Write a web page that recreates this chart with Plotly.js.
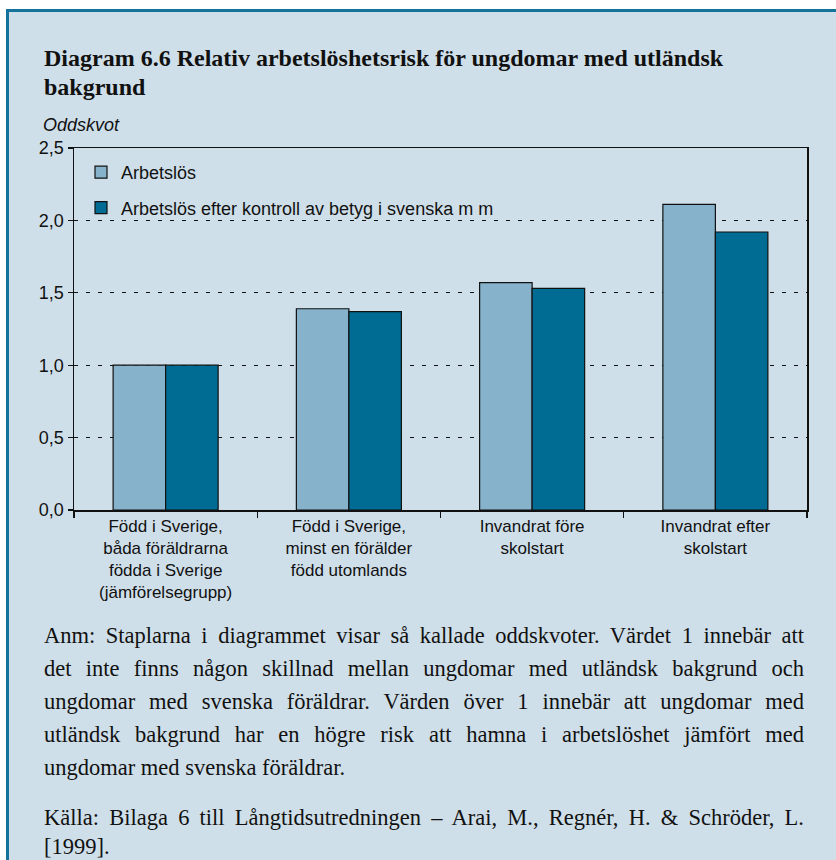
<!DOCTYPE html>
<html>
<head>
<meta charset="utf-8">
<script src="https://cdn.plot.ly/plotly-3.0.1.min.js"></script>
<style>
  html, body { margin: 0; padding: 0; background: #ffffff; }
  #chart { width: 836px; height: 860px; }
</style>
</head>
<body>
<div id="chart"></div>
<script>
// ---- Data ----
const categories = [
  "Född i Sverige,<br>båda föräldrarna<br>födda i Sverige<br>(jämförelsegrupp)",
  "Född i Sverige,<br>minst en förälder<br>född utomlands",
  "Invandrat före<br>skolstart",
  "Invandrat efter<br>skolstart"
];
const seriesNames = ["Arbetslös", "Arbetslös efter kontroll av betyg i svenska m m"];
const arbetslos = [1.00, 1.39, 1.57, 2.11];
const arbetslosKontroll = [1.00, 1.37, 1.53, 1.92];
const yTickVals = [0, 0.5, 1.0, 1.5, 2.0, 2.5];

const titleLines = [
  "Diagram 6.6 Relativ arbetslöshetsrisk för ungdomar med utländsk",
  "bakgrund"
];
const yAxisLabel = "Oddskvot";
const noteLines = [
  "Anm: Staplarna i diagrammet visar så kallade oddskvoter. Värdet 1 innebär att",
  "det inte finns någon skillnad mellan ungdomar med utländsk bakgrund och",
  "ungdomar med svenska föräldrar. Värden över 1 innebär att ungdomar med",
  "utländsk bakgrund har en högre risk att hamna i arbetslöshet jämfört med",
  "ungdomar med svenska föräldrar."
];
const sourceLines = [
  "Källa: Bilaga 6 till Långtidsutredningen – Arai, M., Regnér, H. & Schröder, L.",
  "[1999]."
];

// ---- Layout helpers (pixel -> paper) ----
const W = 836, H = 860;
const M = { l: 74, r: 29, t: 148, b: 350 };
const PW = W - M.l - M.r, PH = H - M.t - M.b;
const px = p => (p - M.l) / PW;
const py = p => (H - M.b - p) / PH;

const PANEL = "#CFDFE9";
const BORDER = "#13739B";
const LIGHT = "#86B3CB";
const DARK = "#006C94";
const SANS = "Liberation Sans, Arial, sans-serif";
const SERIF = "Liberation Serif, Times New Roman, serif";

const traces = [
  {
    type: "bar", name: seriesNames[0], x: categories, y: arbetslos,
    marker: { color: LIGHT, line: { color: "#111111", width: 1.2 } },
    legendgroup: "a", hoverinfo: "skip"
  },
  {
    type: "bar", name: seriesNames[1], x: categories, y: arbetslosKontroll,
    marker: { color: DARK, line: { color: "#111111", width: 1.2 } },
    legendgroup: "b", hoverinfo: "skip"
  }
];

const annotations = [];
const justify = []; // [annotation index, target width]
function addText(text, x, y, font, justifyWidth) {
  annotations.push({
    text: text, xref: "paper", yref: "paper", x: px(x), y: py(y),
    xanchor: "left", yanchor: "middle", align: "left", showarrow: false,
    font: font, borderpad: 0
  });
  if (justifyWidth) justify.push([annotations.length - 1, justifyWidth]);
}
const titleFont = { family: SERIF, size: 24, color: "#111111", weight: "bold" };
addText("<b>" + titleLines[0] + "</b>", 43, 58, titleFont);
addText("<b>" + titleLines[1] + "</b>", 43, 87, titleFont);
addText("<i>" + yAxisLabel + "</i>", 42, 125, { family: SANS, size: 18, color: "#111111" });

const noteFont = { family: SERIF, size: 22.5, color: "#111111" };
const noteY = [635, 668, 701, 734, 767];
noteLines.forEach((t, i) => addText(t, 43, noteY[i], noteFont, i < noteLines.length - 1 ? 760 : null));
const srcY = [817, 846];
sourceLines.forEach((t, i) => addText(t, 43, srcY[i], noteFont, i === 0 ? 760 : null));

const shapes = [
  // white margins outside the panel
  { type: "rect", xref: "paper", yref: "paper", x0: px(-2), x1: px(W + 2), y0: py(-2), y1: py(9),
    fillcolor: "#ffffff", line: { width: 0 }, layer: "below" },
  { type: "rect", xref: "paper", yref: "paper", x0: px(-2), x1: px(6), y0: py(-2), y1: py(H + 2),
    fillcolor: "#ffffff", line: { width: 0 }, layer: "below" },
  // panel border (left + top)
  { type: "path", xref: "paper", yref: "paper",
    path: "M " + px(7.5) + "," + py(H + 2) + " L " + px(7.5) + "," + py(10.5) + " L " + px(W + 2) + "," + py(10.5),
    line: { color: BORDER, width: 3 }, layer: "above" }
];

const layout = {
  width: W, height: H,
  margin: M,
  paper_bgcolor: PANEL,
  plot_bgcolor: "rgba(0,0,0,0)",
  separators: ", ",
  barmode: "group",
  bargap: 0.427,
  bargroupgap: 0,
  showlegend: true,
  legend: {
    x: px(81), y: py(154), xanchor: "left", yanchor: "top",
    bgcolor: "rgba(0,0,0,0)", borderwidth: 0,
    font: { family: SANS, size: 18, color: "#111111" },
    traceorder: "grouped", tracegroupgap: 9,
    itemwidth: 30
  },
  xaxis: {
    type: "category",
    tickson: "boundaries",
    ticks: "outside", ticklen: 6, tickwidth: 1.2, tickcolor: "#111111",
    showline: true, linecolor: "#111111", linewidth: 1.5, mirror: true,
    showgrid: false, zeroline: false,
    tickfont: { family: SANS, size: 17, color: "#111111" },
    fixedrange: true
  },
  yaxis: {
    range: [0, 2.5],
    tickvals: yTickVals, tickformat: ".1f",
    ticks: "outside", ticklen: 5, tickwidth: 1.2, tickcolor: "#111111",
    showline: true, linecolor: "#111111", linewidth: 1.5, mirror: true,
    showgrid: true, gridcolor: "#111111", gridwidth: 1, griddash: "4px,8px",
    zeroline: false,
    tickfont: { family: SANS, size: 18, color: "#111111" },
    fixedrange: true
  },
  annotations: annotations,
  shapes: shapes
};

Plotly.newPlot("chart", traces, layout, { displayModeBar: false, staticPlot: true }).then(gd => {
  // justify the full-width text lines (word spacing), like the printed note
  justify.forEach(([idx, target]) => {
    const g = gd.querySelector('.annotation[data-index="' + idx + '"]');
    if (!g) return;
    const t = g.querySelector("text.annotation-text");
    if (!t) return;
    const natural = t.getComputedTextLength();
    const spaces = (t.textContent.match(/ /g) || []).length;
    if (spaces > 0) t.style.wordSpacing = ((target - natural) / spaces) + "px";
  });
});
</script>
</body>
</html>
